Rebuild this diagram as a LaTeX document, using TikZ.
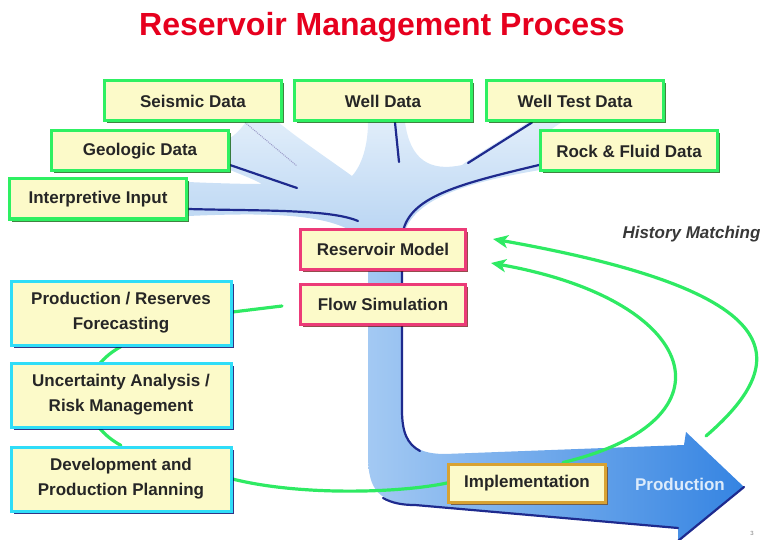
\documentclass[tikz,border=0pt]{standalone}
\usepackage{fontspec}
\setmainfont{Liberation Sans}
\usepackage{xcolor}
\usepackage{tikz}
\usetikzlibrary{arrows.meta}
\usetikzlibrary{shadows}
\usetikzlibrary{positioning}

\definecolor{boxfill}{HTML}{FCFAC9}
\definecolor{datagreen}{HTML}{2EF062}
\definecolor{modelpink}{HTML}{EC3B78}
\definecolor{plancyan}{HTML}{2FDDF8}
\definecolor{implgold}{HTML}{D8A232}
\definecolor{veinblue}{HTML}{1E2A8E}
\definecolor{loopgreen}{HTML}{2EEA63}
\definecolor{titlered}{HTML}{E6001E}
\definecolor{canopytop}{HTML}{E0EDFA}
\definecolor{canopybottom}{HTML}{B6D3F2}
\definecolor{pipeleft}{HTML}{A3C9F3}
\definecolor{piperight}{HTML}{3584E2}
\definecolor{prodtext}{HTML}{DCEBFB}

\pgfdeclarelayer{tree}
\pgfdeclarelayer{links}
\pgfsetlayers{tree,links,main}

\begin{document}
\begin{tikzpicture}[x=1pt, y=-1pt,
    box/.style={rectangle, fill=boxfill, line width=3pt, text=black!85, align=center,
      font=\fontsize{17}{25}\selectfont\bfseries},
    data/.style={box, draw=datagreen, minimum width=177pt, minimum height=40pt,
      drop shadow={shadow xshift=2.5pt, shadow yshift=-2.5pt, fill=green!35!black, opacity=.75}},
    model/.style={box, draw=modelpink, minimum width=165pt, minimum height=40pt,
      drop shadow={shadow xshift=2.5pt, shadow yshift=-2.5pt, fill=red!40!black, opacity=.7}},
    plan/.style={box, draw=plancyan, minimum width=220pt, minimum height=64pt,
      drop shadow={shadow xshift=2.5pt, shadow yshift=-2.5pt, fill=blue!40!black, opacity=.8}},
    impl/.style={box, draw=implgold, minimum width=157pt, minimum height=38pt,
      drop shadow={shadow xshift=2.5pt, shadow yshift=-2.5pt, fill=brown!60!black, opacity=.8}},
    vein/.style={draw=veinblue, line width=2.2pt, line cap=round},
    loop/.style={draw=loopgreen, line width=3.2pt, line cap=round},
    feedback/.style={loop, -{Stealth[length=15pt, width=13pt, inset=4pt]}},
  ]
  \useasboundingbox (0,0) rectangle (760,540);

  % Title
  \node[font=\fontsize{32}{36}\selectfont\bfseries, text=titlered] (title) at (382,27)
    {Reservoir Management Process};

  % Data sources
  \node[data] (seis)   at (193,101) {Seismic Data};
  \node[data] (well)   at (383,101) {Well Data};
  \node[data] (wtest)  at (575,101) {Well Test Data};
  \node[data] (geo)    at (140,151) {Geologic Data};
  \node[data] (rock)   at (629,151) {Rock \& Fluid Data};
  \node[data] (interp) at (98,199)  {Interpretive Input};

  % Model and simulation
  \node[model] (res)  at (383,249) {Reservoir Model};
  \node[model] (flow) at (383,304) {Flow Simulation};

  % Planning column
  \node[plan] (prf)  at (121,313) {Production / Reserves\\Forecasting};
  \node[plan] (risk) at (121,395) {Uncertainty Analysis /\\Risk Management};
  \node[plan] (dev)  at (121,479) {Development and\\Production Planning};

  \node[impl] (impl) at (527,483) {Implementation};
  \node[font=\fontsize{17}{20}\selectfont\bfseries, text=prodtext] (prod) at (680,484) {Production};

  \node[anchor=west, font=\fontsize{17}{19}\selectfont\bfseries\itshape, text=black!78] (hm)
    at (619,234) {History Matching};
  \node[font=\fontsize{6}{7}\selectfont, text=black!50] (page) at (752,533) {3};

  % Tree canopy and trunk
  \begin{pgfonlayer}{tree}
    \shade[top color=canopytop, bottom color=canopybottom]
      (188,216) .. controls (280,212) and (345,214) .. (368,245)
      -- (402,245) .. controls (404,205) and (450,185) .. (540,170)
      -- (540,138) .. controls (550,130) and (556,126) .. (562,122)
      -- (528,122) .. controls (505,138) and (480,152) .. (462,165)
      .. controls (430,172) and (410,160) .. (405,122)
      -- (368,122) .. controls (368,145) and (362,165) .. (352,176)
      .. controls (330,160) and (300,140) .. (278,122)
      -- (246,122) .. controls (240,130) and (235,135) .. (230,138)
      -- (230,170) .. controls (245,176) and (255,180) .. (262,184)
      .. controls (240,184) and (210,183) .. (188,182) -- cycle;
    \shade[left color=pipeleft, right color=piperight]
      (368,235) -- (368,455)
      .. controls (368,492) and (380,502) .. (415,505)
      -- (678,528) -- (678,541) -- (744,487) -- (686,432) -- (684,445)
      -- (445,454) .. controls (412,454) and (402,440) .. (402,410)
      -- (402,235) -- cycle;
  \end{pgfonlayer}

  % Veins from the data boxes into the trunk
  \coordinate (seisend)   at (297,166);
  \coordinate (geoend)    at (297,188);
  \coordinate (interpend) at (358,221);
  \coordinate (wellend)   at (399,162);
  \coordinate (wtestend)  at (468,163);
  \coordinate (fsgap)     at (282,306);
  \coordinate (prodtip)   at (706,436);

  \begin{pgfonlayer}{links}
    \draw[draw=blue!30!gray!60, line width=1pt, densely dotted] ([xshift=52pt]seis.south) -- (seisend);
    \draw[vein] ([yshift=-14pt]geo.east) -- (geoend);
    \draw[vein] ([yshift=-10pt]interp.east) .. controls (260,211) and (330,209) .. (interpend);
    \draw[vein] ([xshift=12pt]well.south) -- (wellend);
    \draw[vein] ([xshift=-43pt]wtest.south) -- (wtestend);
    \draw[vein] ([yshift=-14pt]rock.west) .. controls (455,185) and (403,198) .. (402,240)
      -- (402,410) .. controls (402,432) and (407,444) .. (420,451);
    \draw[vein] (383,498) .. controls (392,503) and (402,505) .. (415,505) -- (678,528);
    \draw[vein] (678,541) -- (744,487);

    % Planning links
    \draw[loop] ([yshift=1pt]prf.east) -- (fsgap);
    \draw[loop] (prf.south) .. controls +(-45,25) and +(-45,-25) .. (dev.north);
    \draw[loop] (dev.east) .. controls (300,496) and (400,493) .. (impl.west);

    % History matching loops
    \draw[feedback] ([xshift=-44pt]impl.north east) .. controls (740,420) and (700,300)
      .. ([xshift=24pt, yshift=-14pt]res.east);
    \draw[feedback] (prodtip) .. controls (800,355) and (780,290)
      .. ([xshift=26pt, yshift=10pt]res.east);
  \end{pgfonlayer}

\end{tikzpicture}
\end{document}
